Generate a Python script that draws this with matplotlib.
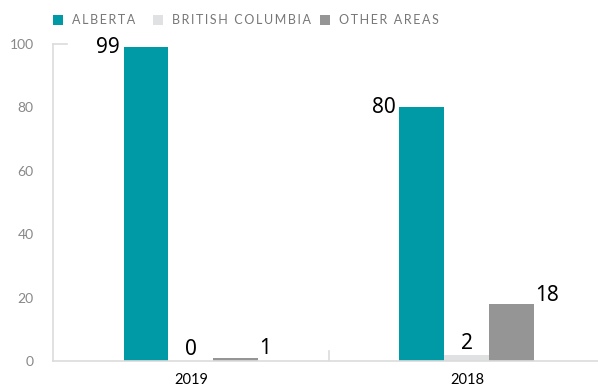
import matplotlib.pyplot as plt
import numpy as np

# ── Data ─────────────────────────────────────────────────────────────────────
years = ["2019", "2018"]
series = ["ALBERTA", "BRITISH COLUMBIA", "OTHER AREAS"]
alberta = [99, 80]
british_columbia = [0, 2]
other_areas = [1, 18]

colours = ["#009aa6", "#e0e1e2", "#959595"]
NUM_FONT = ["Noto Sans", "DejaVu Sans"]

# ── Figure ───────────────────────────────────────────────────────────────────
plt.rcParams["font.family"] = ["Lato", "DejaVu Sans"]
fig = plt.figure(figsize=(5.98, 3.87), dpi=100)
ax = fig.add_axes([53 / 598, 26 / 387, 545 / 598, 317 / 387])

x = np.arange(len(years))
w = 0.163
values = [alberta, british_columbia, other_areas]
for i, (vals, col) in enumerate(zip(values, colours)):
    ax.bar(x + (i - 1) * w, vals, width=w, color=col, zorder=2)

# value labels: Alberta to the left, BC on top, other areas to the right
for xi, v in zip(x, alberta):
    ax.text(xi - 1.5 * w - 0.012, v, str(v), ha="right", va="center",
            fontsize=15, family=NUM_FONT)
for xi, v in zip(x, british_columbia):
    ax.text(xi, v + 0.3, str(v), ha="center", va="bottom",
            fontsize=15, family=NUM_FONT)
for xi, v in zip(x, other_areas):
    ax.text(xi + 1.5 * w + 0.003, v - 0.5, str(v), ha="left", va="bottom",
            fontsize=15, family=NUM_FONT)

# ── Axis styling ─────────────────────────────────────────────────────────────
ax.set_xlim(-0.5, 1.475)
ax.set_ylim(0, 100)
ax.set_yticks([0, 20, 40, 60, 80, 100])
ax.set_xticks(x)
ax.set_xticklabels(years, fontsize=10.5)
ax.tick_params(axis="y", length=0, pad=14, labelsize=10, labelcolor="#888888")
ax.tick_params(axis="x", length=0, pad=9)
for s in ["top", "right"]:
    ax.spines[s].set_visible(False)
for s in ["left", "bottom"]:
    ax.spines[s].set_color("#dcdcdc")
    ax.spines[s].set_linewidth(1.2)
# small top cap and category divider
ax.plot([-0.5, -0.45], [100, 100], color="#dcdcdc", lw=1.2, clip_on=False)
ax.plot([0.5, 0.5], [0, 3], color="#dcdcdc", lw=1.2)

# ── Legend ───────────────────────────────────────────────────────────────────
leg_x = [53, 153, 320]
for lx, name, col in zip(leg_x, series, colours):
    fig.patches.append(plt.Rectangle((lx / 598, 1 - 25 / 387), 10 / 598, 10 / 387,
                                     transform=fig.transFigure, facecolor=col,
                                     edgecolor="none"))
    fig.text((lx + 19) / 598, 1 - 20 / 387, "\u2009".join(name),
             fontsize=9, color="#777777", va="center", ha="left",
             family=["Lato", "DejaVu Sans"])

plt.savefig("out.png", dpi=100)
